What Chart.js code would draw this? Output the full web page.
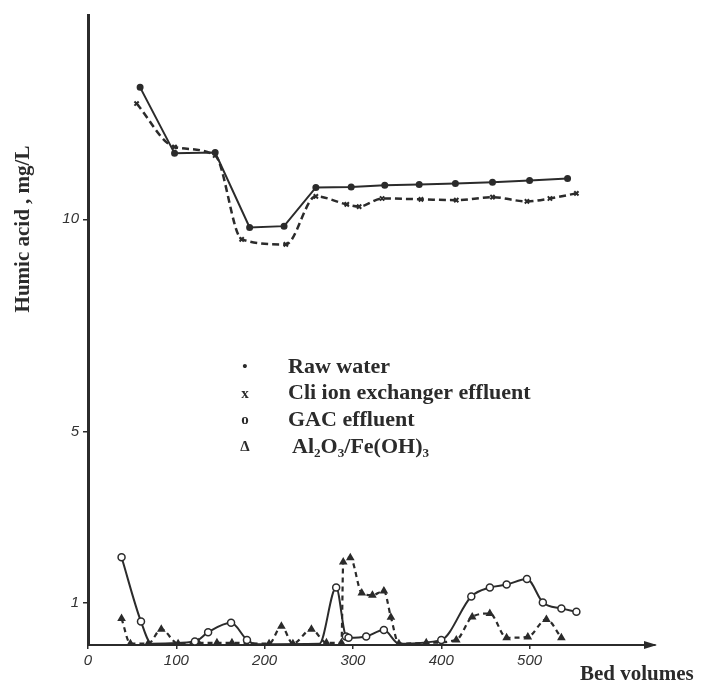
<!DOCTYPE html>
<html>
<head>
<meta charset="utf-8">
<script src="https://cdn.jsdelivr.net/npm/chart.js@4/dist/chart.umd.min.js"></script>
<style>
  html, body { margin: 0; padding: 0; background: #fff; }
</style>
</head>
<body>
<canvas id="humic" width="702" height="682"></canvas>
<script>
// values (bed volumes / mg/L)
const rawX = [59, 98, 144, 183, 222, 258, 298, 336, 375, 416, 458, 500, 543];
const rawY = [13.1, 11.55, 11.57, 9.81, 9.84, 10.75, 10.76, 10.8, 10.82, 10.84, 10.87, 10.91, 10.96];

const cliX = [55, 98, 144, 174, 224, 258, 293, 307, 333, 377, 417, 458, 497, 523, 553];
const cliY = [12.72, 11.7, 11.5, 9.53, 9.41, 10.54, 10.35, 10.3, 10.49, 10.47, 10.45, 10.52, 10.42, 10.49, 10.61];

const gacX = [38, 60, 72, 121, 136, 162, 180, 190, 262, 281, 292, 295, 315, 335, 352, 400, 434, 455, 474, 497, 515, 536, 553];
const gacY = [2.06, 0.55, 0.03, 0.08, 0.3, 0.52, 0.12, 0.02, 0.03, 1.35, 0.2, 0.17, 0.2, 0.35, 0.03, 0.12, 1.14, 1.35, 1.42, 1.55, 1.0, 0.86, 0.78];

const aluX = [38, 48, 68, 83, 102, 125, 146, 163, 205, 219, 232, 253, 270, 287, 289, 297, 310, 322, 335, 343, 352, 383, 417, 435, 455, 474, 498, 519, 536];
const aluY = [0.62, 0.03, 0.03, 0.37, 0.03, 0.05, 0.05, 0.05, 0.03, 0.44, 0.03, 0.37, 0.05, 0.05, 1.95, 2.05, 1.22, 1.17, 1.27, 0.65, 0.03, 0.05, 0.12, 0.66, 0.74, 0.17, 0.19, 0.6, 0.17];

const yTicks = [1, 5, 10];
const xTicks = [0, 100, 200, 300, 400, 500];

const legendSymbols = ['\u2022', 'x', 'o', '\u0394'];
const legendLabels = ['Raw water', 'Cli ion exchanger effluent', 'GAC effluent', 'Al\u2082O\u2083/Fe(OH)\u2083'];

const ink = '#2b2b2b';
const serif = '"Liberation Serif", "DejaVu Serif", serif';

function pts(xs, ys) {
  return xs.map((x, i) => ({ x: x, y: ys[i] }));
}

// points lying on the axis carry no circle in the original
function gacRadius(c) {
  const p = c.raw;
  return p && p.y < 0.05 ? 0 : 3.5;
}

const decorations = {
  id: 'decorations',
  beforeDraw(chart) {
    const c = chart.ctx;
    c.save();
    c.fillStyle = '#fff';
    c.fillRect(0, 0, chart.width, chart.height);
    c.restore();
  },
  afterDraw(chart) {
    const c = chart.ctx;
    const area = chart.chartArea;
    c.save();
    c.fillStyle = ink;

    // arrow head on the x axis
    c.beginPath();
    c.moveTo(area.right + 2, area.bottom);
    c.lineTo(area.right - 11, area.bottom - 4);
    c.lineTo(area.right - 11, area.bottom + 4);
    c.closePath();
    c.fill();

    // legend block in the middle
    c.textBaseline = 'middle';
    legendLabels.forEach((lab, i) => {
      const y = 367 + i * 26.7;
      c.textAlign = 'center';
      c.font = 'bold 15px ' + serif;
      c.fillText(legendSymbols[i], 245, y);
      c.textAlign = 'left';
      c.font = 'bold 22px ' + serif;
      c.fillText(lab, i == 3 ? 292 : 288, y);
    });

    // axis titles
    c.font = 'bold 21px ' + serif;
    c.textAlign = 'left';
    c.textBaseline = 'alphabetic';
    c.fillText('Bed volumes', 580, 680);

    c.translate(29, 229);
    c.rotate(-Math.PI / 2);
    c.textAlign = 'center';
    c.fillText('Humic acid , mg/L', 0, 0);
    c.restore();
  }
};

const ctx = document.getElementById('humic').getContext('2d');
const myChart = new Chart(ctx, {
  type: 'line',
  data: {
    datasets: [
      {
        label: 'Raw water',
        data: pts(rawX, rawY),
        borderColor: ink,
        backgroundColor: ink,
        borderWidth: 2,
        pointStyle: 'circle',
        pointRadius: 2.5,
        tension: 0
      },
      {
        label: 'Cli ion exchanger effluent',
        data: pts(cliX, cliY),
        borderColor: ink,
        backgroundColor: ink,
        borderWidth: 2.5,
        borderDash: [7, 4],
        pointStyle: 'crossRot',
        pointRadius: 3,
        pointBorderWidth: 2,
        cubicInterpolationMode: 'monotone'
      },
      {
        label: 'GAC effluent',
        data: pts(gacX, gacY),
        borderColor: ink,
        backgroundColor: '#fff',
        borderWidth: 2,
        pointStyle: 'circle',
        pointRadius: gacRadius,
        pointBorderWidth: 1.5,
        cubicInterpolationMode: 'monotone'
      },
      {
        label: 'Al2O3/Fe(OH)3',
        data: pts(aluX, aluY),
        borderColor: ink,
        backgroundColor: ink,
        borderWidth: 2.2,
        borderDash: [5, 4],
        pointStyle: 'triangle',
        pointRadius: 2.8,
        cubicInterpolationMode: 'monotone'
      }
    ]
  },
  options: {
    responsive: false,
    animation: false,
    layout: { padding: { top: 15, right: 47, left: 0, bottom: 0 } },
    plugins: {
      legend: { display: false },
      tooltip: { enabled: false }
    },
    scales: {
      x: {
        type: 'linear',
        min: 0,
        max: 642,
        afterFit: (s) => { s.height = 37; },
        afterBuildTicks: (s) => { s.ticks = xTicks.map(v => ({ value: v })); },
        border: { display: true, color: ink, width: 2 },
        grid: { display: true, drawOnChartArea: false, drawTicks: true, tickLength: 4, color: ink, lineWidth: 1.5 },
        ticks: {
          color: '#333',
          padding: 3,
          maxRotation: 0,
          font: { family: '"Liberation Sans", sans-serif', style: 'italic', size: 15 }
        }
      },
      y: {
        min: 0,
        max: 14.8,
        afterFit: (s) => { s.width = 88; },
        afterBuildTicks: (s) => { s.ticks = yTicks.map(v => ({ value: v })); },
        border: { display: true, color: ink, width: 3 },
        grid: { display: true, drawOnChartArea: false, drawTicks: true, tickLength: 5, color: ink, lineWidth: 1.5 },
        ticks: {
          color: '#333',
          padding: 4,
          font: { family: '"Liberation Sans", sans-serif', style: 'italic', size: 15 }
        }
      }
    }
  },
  plugins: [decorations]
});
</script>
</body>
</html>
